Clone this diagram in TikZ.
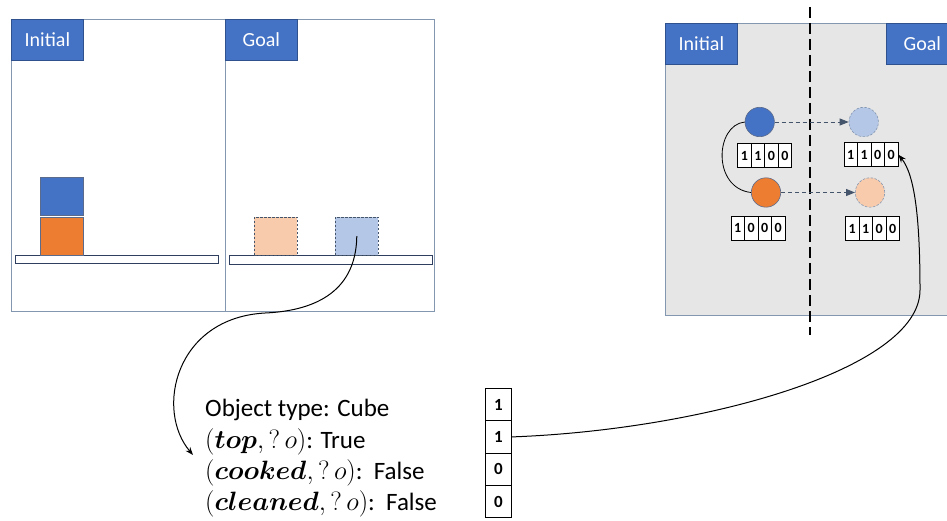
\RequirePackage{fix-cm}
\documentclass[tikz,border=0pt]{standalone}
\usepackage{amsmath,bm}
\usepackage{fontspec}
\setmainfont{Carlito}
\usetikzlibrary{arrows.meta}

\definecolor{tabblue}{HTML}{4472C4}
\definecolor{tabedge}{HTML}{2F528F}
\definecolor{cubeorange}{HTML}{ED7D31}
\definecolor{paleblue}{HTML}{B4C7E7}
\definecolor{paleorange}{HTML}{F8CBAD}
\definecolor{panelfill}{HTML}{E7E6E6}
\definecolor{paneledge}{HTML}{8497B0}
\definecolor{tableedge}{HTML}{2E3F5F}
\definecolor{slate}{HTML}{44546A}
\definecolor{cubeedge}{HTML}{5B6B8C}

% a row of four bit cells: name, left x, centre y, bits
\newcommand{\bitcells}[7]{%
  \foreach \v [count=\i] in {#4,#5,#6,#7} {
    \node[bitcell] (#1-\i) at ({#2+13.5*(\i-0.5)},#3) {\v};
  }%
}
% predicate term set slightly larger, like the display maths font
\newcommand{\pred}[1]{{\fontsize{26.5}{31}\selectfont$(\bm{#1},?\,o)$}}

\begin{document}
\begin{tikzpicture}[x=1pt,y=-1pt,
  panel/.style={draw=paneledge, line width=0.8pt},
  tabbox/.style={draw=tabedge, fill=tabblue, text=white, line width=0.8pt,
    minimum width=72pt, minimum height=41pt, inner sep=0pt,
    font=\fontsize{20}{24}\selectfont},
  tablebar/.style={draw=tableedge, fill=white, line width=1pt},
  cube/.style={draw=cubeedge, line width=0.6pt, minimum width=43pt,
    minimum height=38.3pt, inner sep=0pt, anchor=north west},
  ghost/.style={draw=slate, dash pattern=on 2.5pt off 1.5pt, line width=0.6pt},
  ball/.style={circle, minimum size=29.4pt, inner sep=0pt, draw=cubeedge, line width=0.6pt},
  bitcell/.style={draw=black, fill=white, minimum width=13.5pt, minimum height=24pt,
    inner sep=0pt, line width=0.8pt, font=\bfseries\fontsize{14}{14}\selectfont},
  vcell/.style={draw=black, fill=white, minimum width=26.4pt, minimum height=32.4pt,
    inner sep=0pt, line width=0.8pt, font=\bfseries\fontsize{17}{17}\selectfont},
  txt/.style={anchor=base west, inner sep=0pt, font=\fontsize{25}{31}\selectfont},
  conn/.style={draw=black, line width=1pt, -{Stealth[length=8pt,width=6pt]}},
  dasharrow/.style={draw=slate, line width=0.8pt, dash pattern=on 4pt off 3pt,
    -{Triangle[length=9pt,width=7pt]}}
]
\useasboundingbox (0,0) rectangle (947,521);
\begin{scope}
\clip (0,0) rectangle (947,521);

% ---- block world: initial and goal scenes ----
\draw[panel] (11,19) rectangle (434,311.7);
\draw[panel] (225,19) -- (225,311.7);
\node[tabbox, anchor=north west] (tabI) at (11,19) {Initial};
\node[tabbox, anchor=north west] (tabG) at (225,19) {Goal};

\draw[tablebar] (15.7,255.7) rectangle (218,264);
\draw[tablebar] (229,256) rectangle (432,265);

\node[cube, fill=tabblue] (icubeB) at (40,177) {};
\node[cube, fill=cubeorange] (icubeO) at (40,216.7) {};
\node[cube, fill=paleorange, ghost] (gcubeO) at (254,216.7) {};
\node[cube, fill=paleblue, ghost] (gcubeB) at (335,216.7) {};

% ---- graph view ----
\fill[panelfill] (665,23) rectangle (960,315);
\draw[panel] (960,315) -- (665,315) -- (665,23) -- (960,23);
\node[tabbox, anchor=north west] (tabI2) at (665,23) {Initial};
\node[tabbox, anchor=north west] (tabG2) at (886,23) {Goal};

\draw[black, line width=1.6pt, dash pattern=on 11pt off 5pt] (810,7) -- (810,335);

\node[ball, fill=tabblue] (cB) at (759.7,122) {};
\node[ball, fill=cubeorange] (cO) at (766,192.5) {};
\node[ball, fill=paleblue, draw=paneledge, dash pattern=on 2.5pt off 1.5pt] (cLB) at (863.7,122) {};
\node[ball, fill=paleorange, draw=paneledge, dash pattern=on 2.5pt off 1.5pt] (cLO) at (870,192.5) {};

\draw[dasharrow] (cB) -- (cLB);
\draw[dasharrow] (cO) -- (cLO);
\draw[black, line width=0.8pt] (cB.west) .. controls (715,125) and (712,188) .. (cO.west);

\bitcells{bB}{737.7}{155.5}{1}{1}{0}{0}
\bitcells{bLB}{844}{154.7}{1}{1}{0}{0}
\bitcells{bO}{731}{228.3}{1}{0}{0}{0}
\bitcells{bLO}{845.5}{228.5}{1}{1}{0}{0}

% ---- object description and its encoding ----
\node[txt] (l1) at (205,416.7) {Object type: Cube};
\node[txt] (l2) at (205,448) {\pred{top}: True};
\node[txt] (l3) at (205,479) {\pred{cooked}:\ \ False};
\node[txt] (l4) at (205,510) {\pred{cleaned}:\ \ False};
\coordinate (descin) at (193,455);

\node[vcell] (vb-1) at (498.5,404.5) {1};
\node[vcell] (vb-2) at (498.5,436.9) {1};
\node[vcell] (vb-3) at (498.5,469.1) {0};
\node[vcell] (vb-4) at (498.5,501.5) {0};

% ---- connectors ----
\draw[conn] (gcubeB.center) .. controls (356,295) and (310,311) .. (265,313)
  .. controls (175,318) and (155,410) .. (descin);
\draw[conn] (vb-2.east) .. controls (700,430) and (920,370) .. (920,290)
  .. controls (920,220) and (915,175) .. (bLB-4.east);
\end{scope}
\end{tikzpicture}
\end{document}
